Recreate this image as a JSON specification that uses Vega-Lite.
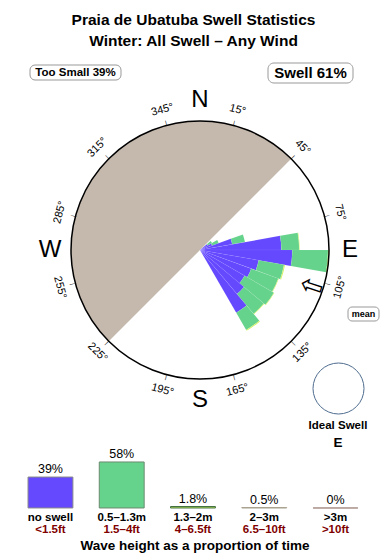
{
  "$schema": "https://vega.github.io/schema/vega-lite/v6.json",
  "padding": 0,
  "bounds": "flush",
  "spacing": 0,
  "config": {"view": {"stroke": null}, "font": "Liberation Sans", "text": {"font": "Liberation Sans"}, "concat": {"spacing": 0}},
  "datasets": {
    "rose": [
      {"d0": 50, "d1": 60, "cat": "no swell", "freq": 0.9},
      {"d0": 50, "d1": 60, "cat": "0.5–1.3m", "freq": 0.5},
      {"d0": 60, "d1": 70, "cat": "no swell", "freq": 1.3},
      {"d0": 60, "d1": 70, "cat": "0.5–1.3m", "freq": 0.7},
      {"d0": 70, "d1": 80, "cat": "no swell", "freq": 3.3},
      {"d0": 70, "d1": 80, "cat": "0.5–1.3m", "freq": 1.3},
      {"d0": 80, "d1": 90, "cat": "no swell", "freq": 8.2},
      {"d0": 80, "d1": 90, "cat": "0.5–1.3m", "freq": 1.8},
      {"d0": 80, "d1": 90, "cat": "1.3–2m", "freq": 0.05},
      {"d0": 90, "d1": 100, "cat": "no swell", "freq": 9.3},
      {"d0": 90, "d1": 100, "cat": "0.5–1.3m", "freq": 3.6},
      {"d0": 90, "d1": 100, "cat": "1.3–2m", "freq": 0.1},
      {"d0": 100, "d1": 110, "cat": "no swell", "freq": 6.0},
      {"d0": 100, "d1": 110, "cat": "0.5–1.3m", "freq": 2.6},
      {"d0": 100, "d1": 110, "cat": "1.3–2m", "freq": 0.1},
      {"d0": 110, "d1": 120, "cat": "no swell", "freq": 5.5},
      {"d0": 110, "d1": 120, "cat": "0.5–1.3m", "freq": 2.9},
      {"d0": 110, "d1": 120, "cat": "1.3–2m", "freq": 0.05},
      {"d0": 120, "d1": 130, "cat": "no swell", "freq": 5.2},
      {"d0": 120, "d1": 130, "cat": "0.5–1.3m", "freq": 3.4},
      {"d0": 120, "d1": 130, "cat": "1.3–2m", "freq": 0.05},
      {"d0": 130, "d1": 140, "cat": "no swell", "freq": 5.8},
      {"d0": 130, "d1": 140, "cat": "0.5–1.3m", "freq": 2.6},
      {"d0": 130, "d1": 140, "cat": "1.3–2m", "freq": 0.05},
      {"d0": 140, "d1": 150, "cat": "no swell", "freq": 7.3},
      {"d0": 140, "d1": 150, "cat": "0.5–1.3m", "freq": 2.0},
      {"d0": 140, "d1": 150, "cat": "1.3–2m", "freq": 0.1}
    ],
    "degrees": [
      {"deg": 15, "label": "15°"}, {"deg": 45, "label": "45°"}, {"deg": 75, "label": "75°"},
      {"deg": 105, "label": "105°"}, {"deg": 135, "label": "135°"}, {"deg": 165, "label": "165°"},
      {"deg": 195, "label": "195°"}, {"deg": 225, "label": "225°"}, {"deg": 255, "label": "255°"},
      {"deg": 285, "label": "285°"}, {"deg": 315, "label": "315°"}, {"deg": 345, "label": "345°"}
    ],
    "compass": [
      {"deg": 0, "label": "N"}, {"deg": 90, "label": "E"}, {"deg": 180, "label": "S"}, {"deg": 270, "label": "W"}
    ],
    "legend": [
      {"cat": "no swell", "ft": "<1.5ft", "pct": 39, "lbl": "39%"},
      {"cat": "0.5–1.3m", "ft": "1.5–4ft", "pct": 58, "lbl": "58%"},
      {"cat": "1.3–2m", "ft": "4–6.5ft", "pct": 1.8, "lbl": "1.8%"},
      {"cat": "2–3m", "ft": "6.5–10ft", "pct": 0.5, "lbl": "0.5%"},
      {"cat": ">3m", "ft": ">10ft", "pct": 0, "lbl": "0%"}
    ],
    "one": [{}]
  },
  "vconcat": [
    {
      "width": 390,
      "height": 445,
      "layer": [
        {
          "data": {"name": "one"},
          "mark": {"type": "text", "text": "Praia de Ubatuba Swell Statistics", "fontSize": 15.5, "fontWeight": "bold", "baseline": "alphabetic", "align": "center"},
          "encoding": {
            "x": {"datum": -6.5, "scale": {"domain": [-200, 190], "nice": false, "zero": false}, "axis": null},
            "y": {"datum": 225.5, "scale": {"domain": [-195, 250], "nice": false, "zero": false}, "axis": null}
          }
        },
        {
          "data": {"name": "one"},
          "mark": {"type": "text", "text": "Winter: All Swell – Any Wind", "fontSize": 15.5, "fontWeight": "bold", "baseline": "alphabetic", "align": "center"},
          "encoding": {
            "x": {"datum": -6.5, "scale": {"domain": [-200, 190], "nice": false, "zero": false}, "axis": null},
            "y": {"datum": 204.5, "scale": {"domain": [-195, 250], "nice": false, "zero": false}, "axis": null}
          }
        },
        {
          "data": {"name": "one"},
          "mark": {"type": "rect", "fill": "white", "stroke": "#999999", "strokeWidth": 1, "cornerRadius": 5},
          "encoding": {
            "x": {"datum": -170, "scale": {"domain": [-200, 190], "nice": false, "zero": false}, "axis": null},
            "x2": {"datum": -79},
            "y": {"datum": 185, "scale": {"domain": [-195, 250], "nice": false, "zero": false}, "axis": null},
            "y2": {"datum": 170}
          }
        },
        {
          "data": {"name": "one"},
          "mark": {"type": "text", "text": "Too Small 39%", "fontSize": 11.5, "fontWeight": "bold", "baseline": "middle", "align": "center"},
          "encoding": {
            "x": {"datum": -124.5, "scale": {"domain": [-200, 190], "nice": false, "zero": false}, "axis": null},
            "y": {"datum": 177.5, "scale": {"domain": [-195, 250], "nice": false, "zero": false}, "axis": null}
          }
        },
        {
          "data": {"name": "one"},
          "mark": {"type": "rect", "fill": "white", "stroke": "#999999", "strokeWidth": 1, "cornerRadius": 6},
          "encoding": {
            "x": {"datum": 68, "scale": {"domain": [-200, 190], "nice": false, "zero": false}, "axis": null},
            "x2": {"datum": 153},
            "y": {"datum": 187, "scale": {"domain": [-195, 250], "nice": false, "zero": false}, "axis": null},
            "y2": {"datum": 167}
          }
        },
        {
          "data": {"name": "one"},
          "mark": {"type": "text", "text": "Swell 61%", "fontSize": 15, "fontWeight": "bold", "baseline": "middle", "align": "center"},
          "encoding": {
            "x": {"datum": 110.5, "scale": {"domain": [-200, 190], "nice": false, "zero": false}, "axis": null},
            "y": {"datum": 177, "scale": {"domain": [-195, 250], "nice": false, "zero": false}, "axis": null}
          }
        },
        {
          "data": {"name": "one"},
          "mark": {"type": "arc", "color": "#c5b9ad"},
          "encoding": {
            "x": {"datum": 0, "scale": {"domain": [-200, 190], "nice": false, "zero": false}, "axis": null},
            "y": {"datum": 0, "scale": {"domain": [-195, 250], "nice": false, "zero": false}, "axis": null},
            "theta": {"datum": 225, "scale": {"domain": [0, 360], "range": [0, 6.283185307179586]}},
            "theta2": {"datum": 405},
            "radius": {"datum": 13, "scale": {"type": "linear", "domain": [0, 13], "range": [0, 129], "zero": true}}
          }
        },
        {
          "data": {"name": "rose"},
          "transform": [{"stack": "freq", "groupby": ["d0"], "as": ["r0", "r1"]}],
          "mark": {"type": "arc", "stroke": "white", "strokeOpacity": 0.1, "strokeWidth": 0.5},
          "encoding": {
            "x": {"datum": 0, "scale": {"domain": [-200, 190], "nice": false, "zero": false}, "axis": null},
            "y": {"datum": 0, "scale": {"domain": [-195, 250], "nice": false, "zero": false}, "axis": null},
            "theta": {"field": "d0", "type": "quantitative", "stack": null, "scale": {"domain": [0, 360], "range": [0, 6.283185307179586]}},
            "theta2": {"field": "d1"},
            "radius": {"field": "r1", "type": "quantitative", "stack": null, "scale": {"type": "linear", "domain": [0, 13], "range": [0, 129], "zero": true}},
            "radius2": {"field": "r0"},
            "color": {"field": "cat", "type": "nominal", "legend": null, "scale": {"domain": ["no swell", "0.5–1.3m", "1.3–2m", "2–3m", ">3m"], "range": ["#6449ff", "#66d38c", "#d2f060", "#e0b040", "#d05050"]}}
          }
        },
        {
          "data": {"name": "one"},
          "mark": {"type": "arc", "filled": false, "stroke": "black", "strokeWidth": 1.5},
          "encoding": {
            "x": {"datum": 0, "scale": {"domain": [-200, 190], "nice": false, "zero": false}, "axis": null},
            "y": {"datum": 0, "scale": {"domain": [-195, 250], "nice": false, "zero": false}, "axis": null},
            "theta": {"datum": 0, "scale": {"domain": [0, 360], "range": [0, 6.283185307179586]}},
            "theta2": {"datum": 360},
            "radius": {"datum": 13, "scale": {"type": "linear", "domain": [0, 13], "range": [0, 129], "zero": true}}
          }
        },
        {
          "data": {"name": "degrees"},
          "mark": {"type": "text", "text": "|", "fontSize": 6, "radius": 131.5, "baseline": "middle", "align": "center"},
          "encoding": {
            "x": {"datum": 0, "scale": {"domain": [-200, 190], "nice": false, "zero": false}, "axis": null},
            "y": {"datum": 0, "scale": {"domain": [-195, 250], "nice": false, "zero": false}, "axis": null},
            "theta": {"field": "deg", "type": "quantitative", "scale": {"domain": [0, 360], "range": [0, 6.283185307179586]}},
            "angle": {"field": "deg", "type": "quantitative", "legend": null, "scale": {"domain": [0, 90, 90.01, 270, 270.01, 360], "range": [0, 90, -89.99, 90, -89.99, 0], "zero": false, "nice": false}}
          }
        },
        {
          "data": {"name": "degrees"},
          "mark": {"type": "text", "fontSize": 11, "radius": 145, "baseline": "middle", "align": "center"},
          "encoding": {
            "x": {"datum": 0, "scale": {"domain": [-200, 190], "nice": false, "zero": false}, "axis": null},
            "y": {"datum": 0, "scale": {"domain": [-195, 250], "nice": false, "zero": false}, "axis": null},
            "theta": {"field": "deg", "type": "quantitative", "scale": {"domain": [0, 360], "range": [0, 6.283185307179586]}},
            "angle": {"field": "deg", "type": "quantitative", "legend": null, "scale": {"domain": [0, 90, 90.01, 270, 270.01, 360], "range": [0, 90, -89.99, 90, -89.99, 0], "zero": false, "nice": false}},
            "text": {"field": "label"}
          }
        },
        {
          "data": {"name": "compass"},
          "mark": {"type": "text", "fontSize": 24, "radius": 150, "baseline": "middle", "align": "center"},
          "encoding": {
            "x": {"datum": 0, "scale": {"domain": [-200, 190], "nice": false, "zero": false}, "axis": null},
            "y": {"datum": 0, "scale": {"domain": [-195, 250], "nice": false, "zero": false}, "axis": null},
            "theta": {"field": "deg", "type": "quantitative", "scale": {"domain": [0, 360], "range": [0, 6.283185307179586]}},
            "text": {"field": "label"}
          }
        },
        {
          "data": {"name": "one"},
          "mark": {"type": "text", "text": "⇧", "font": "DejaVu Sans", "fontSize": 28, "radius": 120, "angle": 288, "baseline": "middle", "align": "center"},
          "encoding": {
            "x": {"datum": 0, "scale": {"domain": [-200, 190], "nice": false, "zero": false}, "axis": null},
            "y": {"datum": 0, "scale": {"domain": [-195, 250], "nice": false, "zero": false}, "axis": null},
            "theta": {"datum": 108, "scale": {"domain": [0, 360], "range": [0, 6.283185307179586]}}
          }
        },
        {
          "data": {"name": "one"},
          "mark": {"type": "rect", "fill": "white", "stroke": "#999999", "strokeWidth": 1, "cornerRadius": 4},
          "encoding": {
            "x": {"datum": 148, "scale": {"domain": [-200, 190], "nice": false, "zero": false}, "axis": null},
            "x2": {"datum": 179},
            "y": {"datum": -57, "scale": {"domain": [-195, 250], "nice": false, "zero": false}, "axis": null},
            "y2": {"datum": -71}
          }
        },
        {
          "data": {"name": "one"},
          "mark": {"type": "text", "text": "mean", "fontSize": 9, "fontWeight": "bold", "baseline": "middle", "align": "center"},
          "encoding": {
            "x": {"datum": 163.5, "scale": {"domain": [-200, 190], "nice": false, "zero": false}, "axis": null},
            "y": {"datum": -64, "scale": {"domain": [-195, 250], "nice": false, "zero": false}, "axis": null}
          }
        },
        {
          "data": {"name": "one"},
          "mark": {"type": "point", "shape": "circle", "filled": false, "stroke": "#4f6d8f", "strokeWidth": 1, "size": 2601, "opacity": 1},
          "encoding": {
            "x": {"datum": 138.5, "scale": {"domain": [-200, 190], "nice": false, "zero": false}, "axis": null},
            "y": {"datum": -138.5, "scale": {"domain": [-195, 250], "nice": false, "zero": false}, "axis": null}
          }
        },
        {
          "data": {"name": "one"},
          "mark": {"type": "text", "text": "Ideal Swell", "fontSize": 11.5, "fontWeight": "bold", "baseline": "middle", "align": "center"},
          "encoding": {
            "x": {"datum": 138, "scale": {"domain": [-200, 190], "nice": false, "zero": false}, "axis": null},
            "y": {"datum": -176, "scale": {"domain": [-195, 250], "nice": false, "zero": false}, "axis": null}
          }
        },
        {
          "data": {"name": "one"},
          "mark": {"type": "text", "text": "E", "fontSize": 13.5, "fontWeight": "bold", "baseline": "middle", "align": "center"},
          "encoding": {
            "x": {"datum": 138, "scale": {"domain": [-200, 190], "nice": false, "zero": false}, "axis": null},
            "y": {"datum": -193, "scale": {"domain": [-195, 250], "nice": false, "zero": false}, "axis": null}
          }
        }
      ]
    },
    {
      "width": 390,
      "height": 92,
      "title": {"text": "Wave height as a proportion of time", "orient": "bottom", "anchor": "middle", "fontSize": 13.5, "fontWeight": "bold", "font": "Liberation Sans", "color": "black", "offset": 2},
      "data": {"name": "legend"},
      "encoding": {
        "x": {"field": "cat", "type": "nominal", "sort": null, "axis": null, "scale": {"paddingInner": 0, "paddingOuter": 0.2368, "align": 0.44}}
      },
      "layer": [
        {
          "mark": {"type": "bar", "width": {"band": 0.63}, "strokeWidth": 1},
          "encoding": {
            "y": {"field": "pct", "type": "quantitative", "axis": null, "scale": {"domain": [-36.6, 79.4], "nice": false, "zero": false}},
            "y2": {"datum": 0},
            "color": {"field": "cat", "type": "nominal", "legend": null, "scale": {"domain": ["no swell", "0.5–1.3m", "1.3–2m", "2–3m", ">3m"], "range": ["#6449ff", "#66d38c", "#d2f060", "#e0b040", "#d05050"]}},
            "stroke": {"field": "cat", "type": "nominal", "legend": null, "scale": {"domain": ["no swell", "0.5–1.3m", "1.3–2m", "2–3m", ">3m"], "range": ["#8a8a8a", "#6a8a70", "#3e6e3e", "#a8a290", "#a89088"]}}
          }
        },
        {
          "mark": {"type": "text", "fontSize": 12.5, "baseline": "alphabetic", "align": "center", "dy": -4},
          "encoding": {
            "y": {"field": "pct", "type": "quantitative", "axis": null, "scale": {"domain": [-36.6, 79.4], "nice": false, "zero": false}},
            "text": {"field": "lbl"}
          }
        },
        {
          "mark": {"type": "text", "fontSize": 11.5, "fontWeight": "bold", "baseline": "middle", "align": "center"},
          "encoding": {
            "y": {"datum": -13.2, "axis": null, "scale": {"domain": [-36.6, 79.4], "nice": false, "zero": false}},
            "text": {"field": "cat"}
          }
        },
        {
          "mark": {"type": "text", "fontSize": 11.5, "fontWeight": "bold", "baseline": "middle", "align": "center", "color": "#800000"},
          "encoding": {
            "y": {"datum": -27.7, "axis": null, "scale": {"domain": [-36.6, 79.4], "nice": false, "zero": false}},
            "text": {"field": "ft"}
          }
        }
      ]
    }
  ]
}
